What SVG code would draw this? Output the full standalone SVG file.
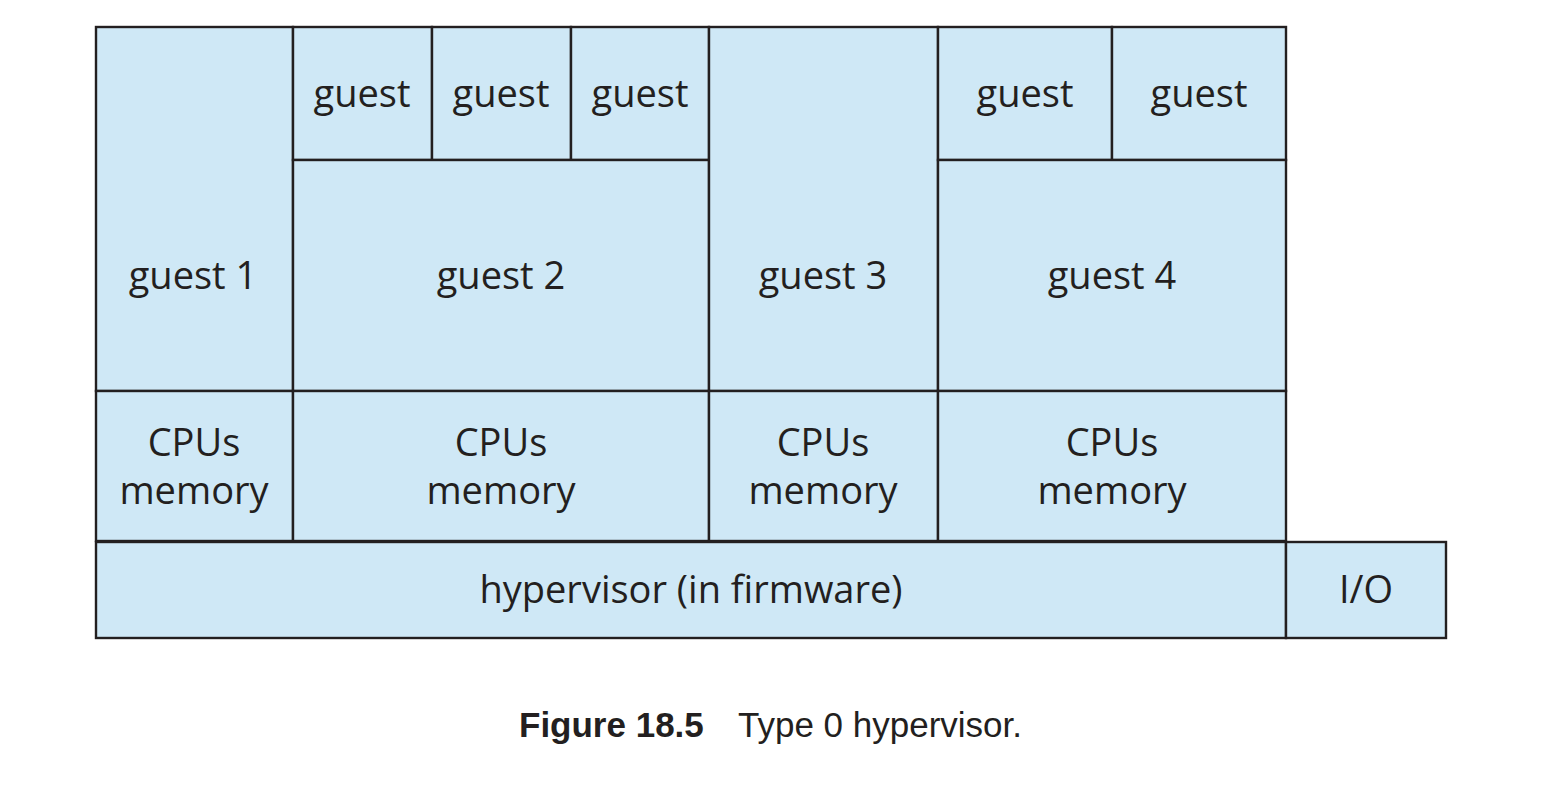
<svg xmlns="http://www.w3.org/2000/svg" width="1544" height="806" viewBox="0 0 1544 806">
<style>
.b{fill:#cfe8f6;stroke:#231f20;stroke-width:2.4}
.t{font-family:"Open Sans","Noto Sans",sans-serif;font-size:38px;font-weight:500;fill:#231f20;text-anchor:middle}
.c{font-family:"Liberation Sans",Arial,sans-serif;font-size:35px;fill:#231f20}
</style>
<rect width="1544" height="806" fill="#ffffff"/>
<g id="guest1"><rect class="b" x="96" y="27" width="197" height="364"/><text class="t" x="193" y="289">guest 1</text></g>
<g id="guest2-g1"><rect class="b" x="293" y="27" width="139" height="133"/><text class="t" x="362" y="107">guest</text></g>
<g id="guest2-g2"><rect class="b" x="432" y="27" width="139" height="133"/><text class="t" x="501" y="107">guest</text></g>
<g id="guest2-g3"><rect class="b" x="571" y="27" width="138" height="133"/><text class="t" x="640" y="107">guest</text></g>
<g id="guest2"><rect class="b" x="293" y="160" width="416" height="231"/><text class="t" x="501" y="289">guest 2</text></g>
<g id="guest3"><rect class="b" x="709" y="27" width="229" height="364"/><text class="t" x="823" y="289">guest 3</text></g>
<g id="guest4-g1"><rect class="b" x="938" y="27" width="174" height="133"/><text class="t" x="1025" y="107">guest</text></g>
<g id="guest4-g2"><rect class="b" x="1112" y="27" width="174" height="133"/><text class="t" x="1199" y="107">guest</text></g>
<g id="guest4"><rect class="b" x="938" y="160" width="348" height="231"/><text class="t" x="1112" y="289">guest 4</text></g>
<g id="res1"><rect class="b" x="96" y="391" width="197" height="150"/><text class="t" x="194" y="456">CPUs</text><text class="t" x="194" y="504">memory</text></g>
<g id="res2"><rect class="b" x="293" y="391" width="416" height="150"/><text class="t" x="501" y="456">CPUs</text><text class="t" x="501" y="504">memory</text></g>
<g id="res3"><rect class="b" x="709" y="391" width="229" height="150"/><text class="t" x="823" y="456">CPUs</text><text class="t" x="823" y="504">memory</text></g>
<g id="res4"><rect class="b" x="938" y="391" width="348" height="150"/><text class="t" x="1112" y="456">CPUs</text><text class="t" x="1112" y="504">memory</text></g>
<g id="hypervisor"><rect class="b" x="96" y="542" width="1190" height="96"/><text class="t" x="691" y="603">hypervisor (in firmware)</text></g>
<g id="io"><rect class="b" x="1286" y="542" width="160" height="96"/><text class="t" x="1366" y="603">I/O</text></g>
<g id="connectors"></g>
<g id="caption"><text class="c" x="519" y="737"><tspan font-weight="bold">Figure 18.5</tspan><tspan x="738">Type 0 hypervisor.</tspan></text></g>
</svg>
